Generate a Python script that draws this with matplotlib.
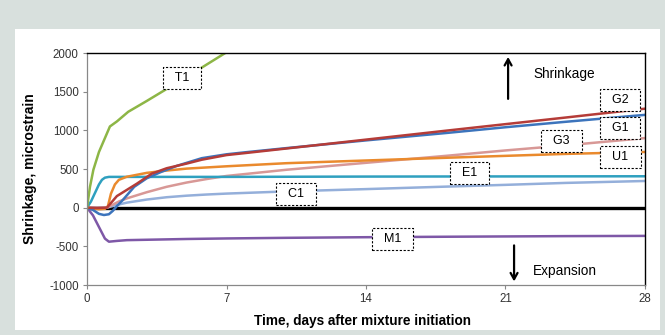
import matplotlib.pyplot as plt
from matplotlib.patches import Rectangle

plt.rcParams['font.family'] = ['Liberation Sans', 'DejaVu Sans']
plt.rcParams['axes.unicode_minus'] = False

# curves (days, microstrain)
t1_days = [0, 0.15, 0.32, 0.6, 0.9, 1.15, 1.5, 2.07, 3.0, 3.9, 5.0, 6.0, 7.0, 7.2]
t1_vals = [0, 270, 490, 720, 900, 1050, 1115, 1240, 1380, 1520, 1690, 1850, 2010, 2040]

e1_days = [0, 0.2, 0.4, 0.6, 0.75, 0.9, 1.1, 2, 7, 14, 21, 28]
e1_vals = [0, 80, 190, 300, 360, 388, 398, 398, 398, 402, 404, 406]

u1_days = [0, 0.3, 0.6, 0.9, 1.05, 1.2, 1.4, 1.6, 2, 3, 4, 5, 7, 10, 14, 18, 21, 24, 28]
u1_vals = [0, -10, -20, -15, 20, 180, 300, 360, 400, 450, 480, 505, 535, 575, 610, 645, 670, 695, 720]

g2_days = [0, 0.5, 1.0, 1.2, 1.5, 2, 2.5, 3.25, 4, 5, 5.76, 7, 7.9, 10, 14, 18, 21, 24, 28]
g2_vals = [0, -5, 0, 60, 150, 230, 310, 440, 510, 570, 620, 680, 705, 765, 880, 995, 1080, 1165, 1280]

g1_days = [0, 0.3, 0.6, 0.85, 1.1, 1.3, 1.5, 1.8, 2.37, 3, 3.7, 4.5, 5.76, 7, 7.9, 10, 14, 18, 21, 24, 28]
g1_vals = [0, -30, -80, -95, -85, -40, 20, 100, 270, 380, 460, 540, 640, 690, 715, 770, 870, 965, 1040, 1110, 1200]

g3_days = [0, 1.0, 1.3, 1.6, 2, 3, 4, 5, 6, 7, 10, 14, 18, 21, 24, 28]
g3_vals = [0, 0, 40, 80, 120, 200, 270, 325, 370, 410, 490, 580, 670, 740, 805, 900]

c1_days = [0, 1.0, 1.5, 2, 3, 4, 5, 6, 7, 10, 14, 18, 21, 24, 28]
c1_vals = [0, 0, 35, 65, 105, 135, 155, 170, 182, 210, 240, 272, 295, 320, 345]

m1_days = [0, 0.3, 0.6, 0.9, 1.1, 1.5, 2, 3, 5, 7, 10, 14, 18, 21, 24, 28]
m1_vals = [0, -100, -250, -400, -440, -430, -420, -415, -405, -398, -390, -382, -376, -372, -368, -365]

series = [
    (m1_days, m1_vals, '#7e58a7'),
    (c1_days, c1_vals, '#94afda'),
    (g3_days, g3_vals, '#d89896'),
    (e1_days, e1_vals, '#2fa0bf'),
    (u1_days, u1_vals, '#ea8a2d'),
    (g1_days, g1_vals, '#3c74bc'),
    (g2_days, g2_vals, '#b53c38'),
    (t1_days, t1_vals, '#8db646'),
]

labels = ['T1', 'G2', 'G1', 'G3', 'U1', 'E1', 'C1', 'M1']
label_x = [4.77, 26.75, 26.74, 23.82, 26.77, 19.19, 10.48, 15.33]
label_y = [1678, 1393, 1034, 860, 653, 451, 181, -401]

fig = plt.figure(figsize=(6.65, 3.35), dpi=100, facecolor='#d8e0dd')
fig.patches.append(Rectangle((15 / 665, 1 - 330 / 335), 645 / 665, 301 / 335,
                             transform=fig.transFigure, facecolor='white',
                             edgecolor='none', zorder=-10))

ax = fig.add_axes([87 / 665, 1 - 285 / 335, 558 / 665, 232 / 335])
ax.set_facecolor('white')

ax.axhline(0, color='black', lw=2.4, zorder=1)
for d, v, c in series:
    ax.plot(d, v, color=c, lw=1.8, zorder=2)

for lbl, x, y in zip(labels, label_x, label_y):
    ax.text(x, y, f'  {lbl}  ', ha='center', va='center', fontsize=9, zorder=5,
            bbox=dict(boxstyle='square,pad=0.4', fc='white', ec='black',
                      ls=(0, (2, 1.5)), lw=0.8))

ax.annotate('', xy=(21.13, 1985), xytext=(21.13, 1371),
            arrowprops=dict(arrowstyle='->,head_length=0.45,head_width=0.25',
                            color='black', lw=1.6))
ax.annotate('', xy=(21.43, -990), xytext=(21.43, -452),
            arrowprops=dict(arrowstyle='->,head_length=0.45,head_width=0.25',
                            color='black', lw=1.6))
ax.text(22.42, 1730, 'Shrinkage', fontsize=9.8, va='center', ha='left')
ax.text(22.37, -815, 'Expansion', fontsize=9.8, va='center', ha='left')

ax.set_xlim(0, 28)
ax.set_ylim(-1000, 2000)
ax.set_xticks([0, 7, 14, 21, 28])
ax.set_yticks(range(-1000, 2001, 500))
ax.tick_params(labelsize=8.3, colors='#333333', length=3, width=0.8, pad=3)
ax.tick_params(axis='both', color='#888888')

for s in ['left', 'bottom']:
    ax.spines[s].set_color('#888888')
    ax.spines[s].set_linewidth(0.9)
for s in ['top', 'right']:
    ax.spines[s].set_color('black')
    ax.spines[s].set_linewidth(1.0)

ax.set_ylabel('Shrinkage, microstrain', fontsize=10, fontweight='bold')
ax.set_xlabel('Time, days after mixture initiation', fontsize=9.8, fontweight='bold')
ax.yaxis.set_label_coords(-0.0896, 0.5)
ax.xaxis.set_label_coords(0.494, -0.127)

fig.savefig('out.png', dpi=100, facecolor=fig.get_facecolor())
